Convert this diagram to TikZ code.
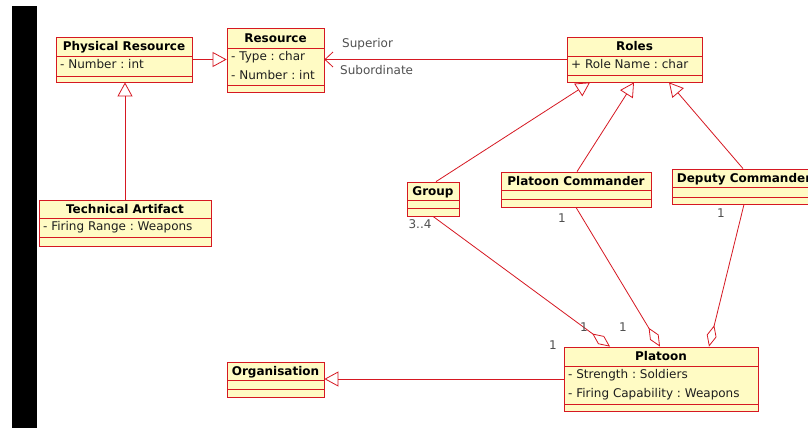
\documentclass[tikz,border=0pt]{standalone}
\usepackage{fontspec}
\setmainfont{DejaVu Sans}
\frenchspacing
\usetikzlibrary{arrows.meta,fit,calc}
\definecolor{umlred}{RGB}{214,24,34}
\definecolor{umlfill}{RGB}{255,251,196}
\definecolor{attrtxt}{RGB}{30,30,30}
\definecolor{labtxt}{RGB}{80,80,80}
\tikzset{
  clsbox/.style={draw=umlred, fill=umlfill, line width=0.8pt, inner sep=0pt},
  clsline/.style={draw=umlred, line width=0.8pt},
  clstitle/.style={anchor=base, inner sep=0pt, font=\fontsize{12}{14}\selectfont\bfseries, text=black},
  clsattr/.style={anchor=base west, inner sep=0pt, font=\fontsize{12}{14}\selectfont, text=attrtxt},
  lab/.style={inner sep=0pt, font=\fontsize{12}{14}\selectfont, text=labtxt},
  gen/.style={draw=umlred, line width=0.8pt, -{Triangle[open, length=14pt, width=15pt]}},
  agg/.style={draw=umlred, line width=0.8pt, -{Diamond[open, length=22pt, width=10pt]}},
  nav/.style={draw=umlred, line width=0.8pt, -{Straight Barb[length=8pt, width=15pt]}},
}
% #1 name, #2 left, #3 top, #4 right, #5 title sep, #6 attr sep, #7 bottom, #8 title, #9 attributes
\newcommand{\umlcls}[9]{%
  \node[clsbox, fit={(#2,#3) (#4,#7)}] (#1) {};
  \draw[clsline] (#2,#5) -- (#4,#5);
  \draw[clsline] (#2,#6) -- (#4,#6);
  \node[clstitle] at ({(#2+#4)/2},{(#3+#5)/2+4.4}) {#8};
  \if\relax\detokenize{#9}\relax\else
    \foreach \t [count=\i from 0] in {#9} {\node[clsattr] at (#2+4,#5+12+19*\i) {\t};}
  \fi
}
\begin{document}
\begin{tikzpicture}[x=1pt,y=-1pt]
\useasboundingbox (0,0) rectangle (808,428);
\begin{scope}
\clip (0,0) rectangle (808,428);
\fill[white] (0,0) rectangle (808,428);
\fill[black] (12,6) rectangle (37,428);

\umlcls{physres}{56}{37}{192}{56}{76}{82}{Physical Resource}{- Number : int}
\umlcls{res}{227}{28}{324}{48}{85}{92}{Resource}{- Type : char, - Number : int}
\umlcls{techart}{39}{200}{211}{218}{237}{246}{Technical Artifact}{- Firing Range : Weapons}
\umlcls{roles}{567}{37}{702}{56}{75}{82}{Roles}{+ Role Name : char}
\umlcls{group}{407}{182}{459}{200}{208}{216}{Group}{}
\umlcls{pc}{501}{172}{651}{190}{199}{207}{Platoon Commander}{}
\umlcls{dc}{672}{169}{816}{187}{197}{204}{Deputy Commander}{}
\umlcls{platoon}{564}{347}{758}{366}{404}{411}{Platoon}{- Strength : Soldiers, - Firing Capability : Weapons}
\umlcls{org}{227}{362}{324}{380}{389}{397}{Organisation}{}

% generalizations
\draw[gen] (techart.north) -- (techart.north |- physres.south);
\draw[gen] (physres.east) -- (physres.east -| res.west);
\draw[gen] (group.north -| 436,0) -- (roles.south -| 590,0);
\draw[gen] (pc.north -| 577,0) -- (roles.south -| 634,0);
\draw[gen] (dc.north -| 743,0) -- (roles.south -| 669,0);
\draw[gen] (platoon.west) -- (platoon.west -| org.east);

% association Roles -> Resource
\draw[nav] (roles.west) -- (roles.west -| res.east);
\node[lab, anchor=west] (sup) at (342,44) {Superior};
\node[lab, anchor=west] (sub) at (340,70) {Subordinate};

% aggregations
\draw[agg] (group.south -| 433,0) -- (platoon.north -| 610,0);
\draw[agg] (pc.south -| 576,0) -- (platoon.north -| 660,0);
\draw[agg] (dc.south -| 744,0) -- (platoon.north -| 709,0);

% multiplicities
\node[lab] (m34) at (420,224) {3..4};
\node[lab] (mpc) at (562,218) {1};
\node[lab] (mdc) at (721,213) {1};
\node[lab] (mg) at (584,327) {1};
\node[lab] (mpp) at (623,327) {1};
\node[lab] (mpl) at (553,345) {1};
\end{scope}
\end{tikzpicture}
\end{document}
